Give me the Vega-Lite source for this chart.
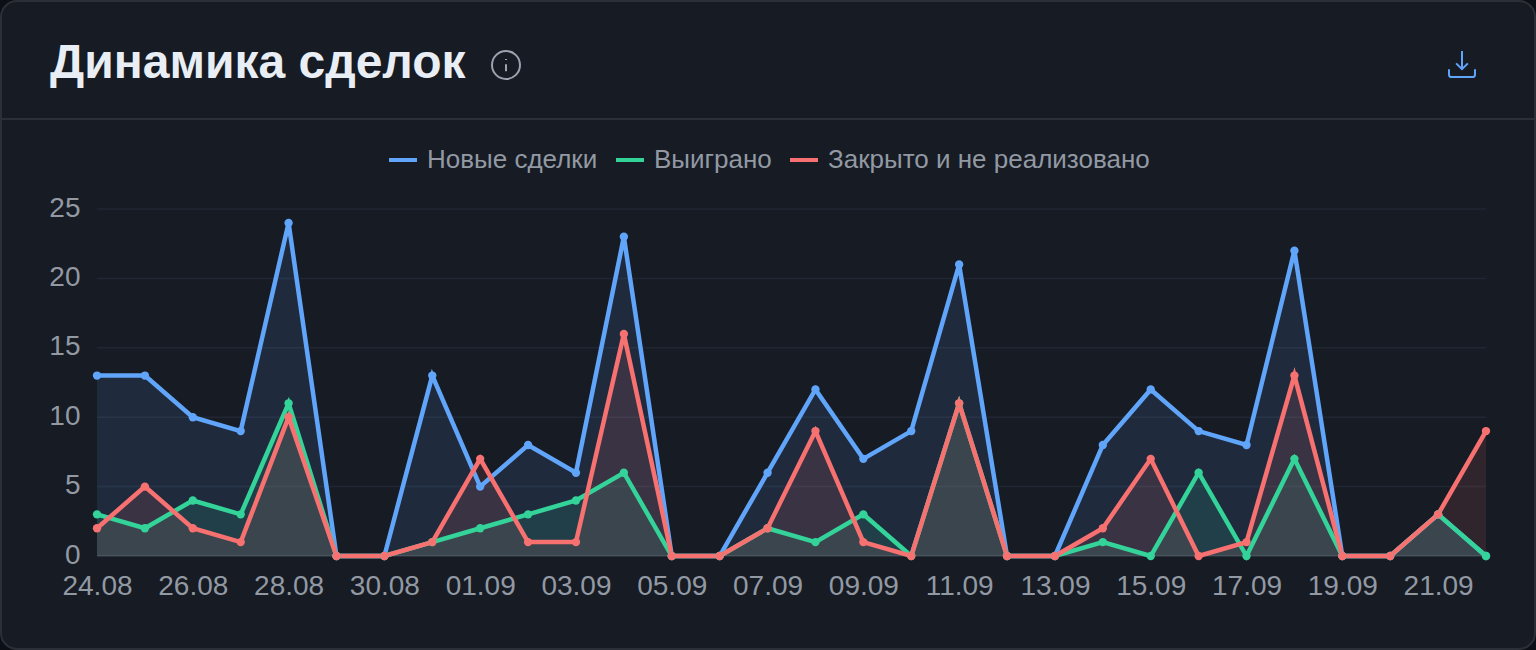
{"$schema":"https://vega.github.io/schema/vega-lite/v6.json","autosize":"none","width":1389,"height":347,"padding":{"left":97,"top":209,"right":50,"bottom":94},"background":"#0c1016","config":{"view":{"stroke":null},"font":"Liberation Sans"},
"title":{"text":"Динамика сделок","anchor":"start","frame":"group","font":"Liberation Sans","fontSize":48,"fontWeight":"bold","color":"#e9eef5","baseline":"alphabetic","dx":-47,"dy":126,"offset":0},
"datasets":{"deals":[
{"d":"24.08","s":"Новые сделки","v":13},{"d":"25.08","s":"Новые сделки","v":13},{"d":"26.08","s":"Новые сделки","v":10},{"d":"27.08","s":"Новые сделки","v":9},{"d":"28.08","s":"Новые сделки","v":24},{"d":"29.08","s":"Новые сделки","v":0},{"d":"30.08","s":"Новые сделки","v":0},{"d":"31.08","s":"Новые сделки","v":13},{"d":"01.09","s":"Новые сделки","v":5},{"d":"02.09","s":"Новые сделки","v":8},{"d":"03.09","s":"Новые сделки","v":6},{"d":"04.09","s":"Новые сделки","v":23},{"d":"05.09","s":"Новые сделки","v":0},{"d":"06.09","s":"Новые сделки","v":0},{"d":"07.09","s":"Новые сделки","v":6},{"d":"08.09","s":"Новые сделки","v":12},{"d":"09.09","s":"Новые сделки","v":7},{"d":"10.09","s":"Новые сделки","v":9},{"d":"11.09","s":"Новые сделки","v":21},{"d":"12.09","s":"Новые сделки","v":0},{"d":"13.09","s":"Новые сделки","v":0},{"d":"14.09","s":"Новые сделки","v":8},{"d":"15.09","s":"Новые сделки","v":12},{"d":"16.09","s":"Новые сделки","v":9},{"d":"17.09","s":"Новые сделки","v":8},{"d":"18.09","s":"Новые сделки","v":22},{"d":"19.09","s":"Новые сделки","v":0},{"d":"20.09","s":"Новые сделки","v":0},{"d":"21.09","s":"Новые сделки","v":3},{"d":"22.09","s":"Новые сделки","v":0},
{"d":"24.08","s":"Выиграно","v":3},{"d":"25.08","s":"Выиграно","v":2},{"d":"26.08","s":"Выиграно","v":4},{"d":"27.08","s":"Выиграно","v":3},{"d":"28.08","s":"Выиграно","v":11},{"d":"29.08","s":"Выиграно","v":0},{"d":"30.08","s":"Выиграно","v":0},{"d":"31.08","s":"Выиграно","v":1},{"d":"01.09","s":"Выиграно","v":2},{"d":"02.09","s":"Выиграно","v":3},{"d":"03.09","s":"Выиграно","v":4},{"d":"04.09","s":"Выиграно","v":6},{"d":"05.09","s":"Выиграно","v":0},{"d":"06.09","s":"Выиграно","v":0},{"d":"07.09","s":"Выиграно","v":2},{"d":"08.09","s":"Выиграно","v":1},{"d":"09.09","s":"Выиграно","v":3},{"d":"10.09","s":"Выиграно","v":0},{"d":"11.09","s":"Выиграно","v":11},{"d":"12.09","s":"Выиграно","v":0},{"d":"13.09","s":"Выиграно","v":0},{"d":"14.09","s":"Выиграно","v":1},{"d":"15.09","s":"Выиграно","v":0},{"d":"16.09","s":"Выиграно","v":6},{"d":"17.09","s":"Выиграно","v":0},{"d":"18.09","s":"Выиграно","v":7},{"d":"19.09","s":"Выиграно","v":0},{"d":"20.09","s":"Выиграно","v":0},{"d":"21.09","s":"Выиграно","v":3},{"d":"22.09","s":"Выиграно","v":0},
{"d":"24.08","s":"Закрыто и не реализовано","v":2},{"d":"25.08","s":"Закрыто и не реализовано","v":5},{"d":"26.08","s":"Закрыто и не реализовано","v":2},{"d":"27.08","s":"Закрыто и не реализовано","v":1},{"d":"28.08","s":"Закрыто и не реализовано","v":10},{"d":"29.08","s":"Закрыто и не реализовано","v":0},{"d":"30.08","s":"Закрыто и не реализовано","v":0},{"d":"31.08","s":"Закрыто и не реализовано","v":1},{"d":"01.09","s":"Закрыто и не реализовано","v":7},{"d":"02.09","s":"Закрыто и не реализовано","v":1},{"d":"03.09","s":"Закрыто и не реализовано","v":1},{"d":"04.09","s":"Закрыто и не реализовано","v":16},{"d":"05.09","s":"Закрыто и не реализовано","v":0},{"d":"06.09","s":"Закрыто и не реализовано","v":0},{"d":"07.09","s":"Закрыто и не реализовано","v":2},{"d":"08.09","s":"Закрыто и не реализовано","v":9},{"d":"09.09","s":"Закрыто и не реализовано","v":1},{"d":"10.09","s":"Закрыто и не реализовано","v":0},{"d":"11.09","s":"Закрыто и не реализовано","v":11},{"d":"12.09","s":"Закрыто и не реализовано","v":0},{"d":"13.09","s":"Закрыто и не реализовано","v":0},{"d":"14.09","s":"Закрыто и не реализовано","v":2},{"d":"15.09","s":"Закрыто и не реализовано","v":7},{"d":"16.09","s":"Закрыто и не реализовано","v":0},{"d":"17.09","s":"Закрыто и не реализовано","v":1},{"d":"18.09","s":"Закрыто и не реализовано","v":13},{"d":"19.09","s":"Закрыто и не реализовано","v":0},{"d":"20.09","s":"Закрыто и не реализовано","v":0},{"d":"21.09","s":"Закрыто и не реализовано","v":3},{"d":"22.09","s":"Закрыто и не реализовано","v":9}
],"grid":[{"g":5},{"g":10},{"g":15},{"g":20},{"g":25}],"base":[{"g":0}]},
"data":{"name":"deals"},
"layer":[
{"data":{"values":[{}]},"mark":{"type":"rect","fill":"#161b24","stroke":"#2a2f38","strokeWidth":2,"cornerRadius":16},"encoding":{"x":{"value":-96},"x2":{"value":1438},"y":{"value":-208},"y2":{"value":440}}},
{"data":{"values":[{}]},"mark":{"type":"rule","stroke":"#2a2f38","strokeWidth":2},"encoding":{"x":{"value":-96},"x2":{"value":1438},"y":{"value":-90}}},
{"data":{"name":"grid"},"mark":{"type":"rule","stroke":"#202632","strokeWidth":1.5},"encoding":{"y":{"field":"g","type":"quantitative","scale":{"domain":[0,25],"nice":false},"axis":{"values":[0,5,10,15,20,25],"title":null,"ticks":false,"domain":false,"grid":false,"labelFont":"Liberation Sans","labelFontSize":28,"labelColor":"#9299a3","labelPadding":17,"labelOffset":-1,"zindex":1}}}},
{"data":{"name":"base"},"mark":{"type":"rule","stroke":"#2b313c","strokeWidth":2},"encoding":{"y":{"field":"g","type":"quantitative"}}},
{"mark":{"type":"area","opacity":0.12},"encoding":{
"x":{"field":"d","type":"ordinal","sort":null,"scale":{"type":"point","padding":0},"axis":{"values":["24.08","26.08","28.08","30.08","01.09","03.09","05.09","07.09","09.09","11.09","13.09","15.09","17.09","19.09","21.09"],"title":null,"ticks":false,"domain":false,"grid":false,"labelAngle":0,"labelFont":"Liberation Sans","labelFontSize":28,"labelColor":"#9299a3","labelPadding":16,"zindex":1,"labelOverlap":false}},
"y":{"field":"v","type":"quantitative","stack":null},
"color":{"field":"s","type":"nominal","sort":null,"scale":{"domain":["Новые сделки","Выиграно","Закрыто и не реализовано"],"range":["#60a5fa","#34d399","#f87171"]},"legend":{"title":null,"orient":"none","legendX":290,"legendY":-65,"direction":"horizontal","columns":3,"symbolType":"stroke","symbolSize":784,"symbolStrokeWidth":4,"symbolOpacity":1,"labelFont":"Liberation Sans","labelFontSize":26,"labelColor":"#9299a3","labelOffset":8,"columnPadding":10,"labelLimit":500,"zindex":1}}}},
{"mark":{"type":"line","strokeWidth":4.5,"interpolate":"linear"},"encoding":{
"x":{"field":"d","type":"ordinal","sort":null},
"y":{"field":"v","type":"quantitative","stack":null},
"color":{"field":"s","type":"nominal","sort":null}}},
{"mark":{"type":"point","filled":true,"size":70,"opacity":1},"encoding":{
"x":{"field":"d","type":"ordinal","sort":null},
"y":{"field":"v","type":"quantitative","stack":null},
"color":{"field":"s","type":"nominal","sort":null}}},
{"data":{"values":[{}]},"mark":{"type":"point","shape":"M-1,0A1,1 0 1,0 1,0A1,1 0 1,0 -1,0ZM0,-.05L0,.45M0,-.42L0,-.36","filled":false,"stroke":"#9ca3af","strokeWidth":2,"size":784,"opacity":1},"encoding":{"x":{"value":409},"y":{"value":-144}}},
{"data":{"values":[{}]},"mark":{"type":"point","shape":"M0,-1L0,.4M-.45,-.05L0,.4L.45,-.05M-1,.4L-1,.8Q-1,1 -.8,1L.8,1Q1,1 1,.8L1,.4","filled":false,"stroke":"#60a5fa","strokeWidth":2,"size":676,"opacity":1},"encoding":{"x":{"value":1365},"y":{"value":-145}}}
]}
